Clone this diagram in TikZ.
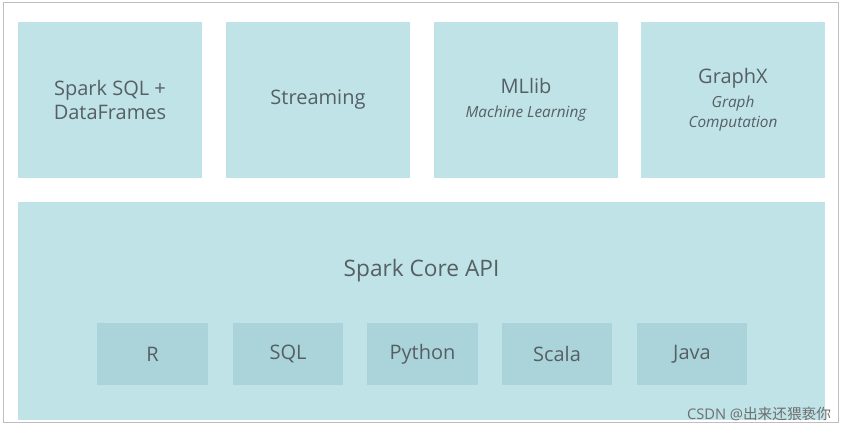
\documentclass[tikz,border=0pt]{standalone}
\usepackage{fontspec}
\setmainfont{Open Sans}
\newfontfamily\cjk{Noto Sans CJK SC}
\definecolor{boxlight}{RGB}{192,227,231}
\definecolor{boxdark}{RGB}{170,212,217}
\definecolor{labelgray}{RGB}{85,95,100}
\newcommand{\subtxt}{\fontsize{11.5}{15}\selectfont\itshape}
\tikzset{every picture/.style={line width=0.75pt}}
\tikzset{
  upper/.style={fill=boxlight,draw=none,minimum width=138pt,minimum height=117pt,inner sep=0pt,align=center,text=labelgray,font=\fontsize{15}{18}\selectfont},
  lang/.style={fill=boxdark,draw=none,minimum width=83pt,minimum height=46.5pt,inner sep=0pt,text=labelgray,font=\fontsize{15}{18}\selectfont}
}
\begin{document}
\begin{tikzpicture}[x=0.75pt,y=0.75pt,yscale=-1,xscale=1]
\useasboundingbox (0,0) rectangle (850,434);
\fill[white] (0,0) rectangle (850,434);
%Outer frame
\draw[color={rgb, 255:red, 190; green, 190; blue, 190}] (3,3) rectangle (838,423);

%Upper boxes
\node[upper] (sql) at (110,100) {Spark SQL +\\DataFrames};
\node[upper] (stream) at (318,100) {Streaming};
\node[upper] (ml) at (526,100) {MLlib\\{\subtxt Machine Learning}};
\node[upper] (graph) at (733,100) {GraphX\\{\subtxt Graph}\\[-3pt]{\subtxt Computation}};

%Core box
\node[fill=boxlight,minimum width=605.25pt,minimum height=163.5pt,inner sep=0pt] (core) at (421.5,311) {};
\node[text=labelgray,font=\fontsize{17}{20}\selectfont] (coretxt) at (421.5,271) {Spark Core API};

%Language boxes
\node[lang] (r) at (152.5,354) {R};
\node[lang] (sqlang) at (288,354) {SQL};
\node[lang] (py) at (422.5,354) {Python};
\node[lang] (scala) at (557,354) {Scala};
\node[lang] (java) at (692,354) {Java};

% Text Node
\node[anchor=east,text={rgb, 255:red, 110; green, 110; blue, 110},font=\fontsize{11}{13}\selectfont] (mark) at (836,414) {CSDN @{\cjk 出来还猥亵你}};
\end{tikzpicture}
\end{document}
